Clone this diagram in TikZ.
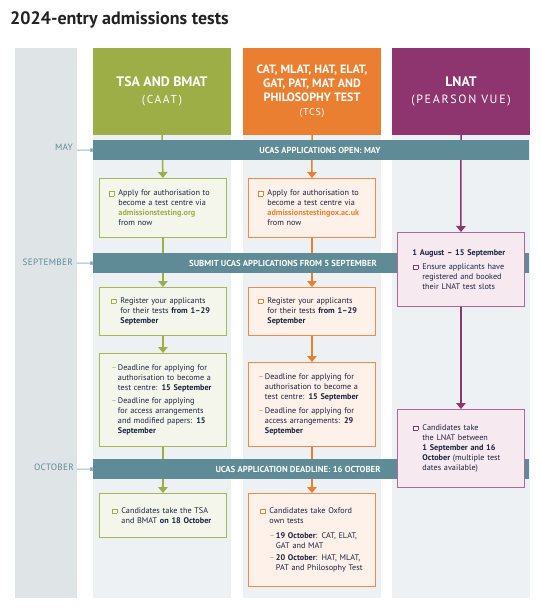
\documentclass[tikz,border=0pt]{standalone}
\usepackage{fontspec}
\setmainfont{PT Sans}
\usetikzlibrary{arrows.meta}
\definecolor{grn}{HTML}{9DAE47}
\definecolor{gbd}{HTML}{A8B65A}
\definecolor{gfill}{HTML}{F4F6EC}
\definecolor{org}{HTML}{EA7F31}
\definecolor{obd}{HTML}{EF8A48}
\definecolor{ofill}{HTML}{FDF1E9}
\definecolor{pur}{HTML}{8E3570}
\definecolor{pbd}{HTML}{B0669A}
\definecolor{pfill}{HTML}{F6E9F0}
\definecolor{teal}{HTML}{5E8B95}
\definecolor{mline}{HTML}{9DBAC0}
\definecolor{colbg}{HTML}{EDF1F4}
\definecolor{greycol}{HTML}{DFE4E7}
\definecolor{txt}{HTML}{1B2440}
\definecolor{ttl}{HTML}{222222}
\pgfdeclarelayer{back}\pgfdeclarelayer{lines}\pgfdeclarelayer{front}
\pgfsetlayers{back,lines,main,front}
\newcommand\cb[1]{\makebox[9pt][l]{\raisebox{0.3pt}{\setlength\fboxsep{0pt}\setlength\fboxrule{0.5pt}\fcolorbox{#1}{white}{\rule{0pt}{3.8pt}\rule{3.8pt}{0pt}}}}}
\newcommand\ck[2]{\cb{#1}\parbox[t]{112pt}{\raggedright #2}}
\newcommand\dk[2]{\makebox[6.5pt][l]{\textcolor{#1}{–}}\parbox[t]{104pt}{\raggedright #2}}
\tikzset{
  box/.style={draw, line width=0.9pt, anchor=north west, minimum width=127pt,
    text width=127pt, inner xsep=0pt, inner ysep=0pt, align=left,
    font=\fontsize{8.2}{10}\selectfont, text=txt},
  gbox/.style={box, draw=gbd, fill=gfill},
  obox/.style={box, draw=obd, fill=ofill},
  pbox/.style={box, draw=pbd, fill=pfill},
  hdr/.style={minimum width=138pt, minimum height=87pt, inner sep=0pt, text=white, align=center},
  bar/.style={anchor=north west, fill=teal, minimum width=436pt, minimum height=20pt, inner sep=0pt},
  bartxt/.style={text=white, font=\fontsize{8.7}{9}\selectfont\bfseries, inner sep=0pt},
  month/.style={anchor=east, text=teal, font=\fontsize{9.2}{10}\selectfont\addfontfeatures{LetterSpace=3}, inner sep=0pt},
  monthline/.style={draw=mline, line width=1pt, -{Square[length=3pt,width=3.5pt,fill=teal]}},
  gline/.style={draw=grn, line width=1.5pt, -{Triangle[width=9.5pt,length=6pt]}},
  oline/.style={draw=org, line width=1.5pt, -{Triangle[width=9.5pt,length=6pt]}},
  pline/.style={draw=pur, line width=1.5pt, -{Triangle[width=9.5pt,length=6pt]}},
}
\begin{document}
\begin{tikzpicture}[x=1pt,y=-1pt]
\useasboundingbox (0,0) rectangle (540,609);
\begin{pgfonlayer}{back}
\fill[white] (0,0) rectangle (540,609);
\fill[greycol] (15,48) rectangle (77,598);
\fill[colbg] (93,135) rectangle (231,598);
\fill[colbg] (243,135) rectangle (381,598);
\fill[colbg] (392,135) rectangle (530,598);
\end{pgfonlayer}

\node[anchor=base west, font=\fontsize{18}{20}\selectfont\bfseries, text=ttl, inner sep=0pt] (title) at (10,25) {2024-entry admissions tests};

% headers
\node[hdr, fill=grn, font=\fontsize{13.8}{17}\selectfont] (hG) at (162,91.5)
  {{\bfseries TSA AND BMAT}\\{\fontsize{11.5}{17}\selectfont\addfontfeatures{LetterSpace=14}(CAAT)}};
\node[hdr, fill=org, font=\fontsize{12}{14.2}\selectfont] (hO) at (312,91.5)
  {{\bfseries CAT, MLAT, HAT, ELAT,}\\{\bfseries GAT, PAT, MAT AND}\\{\bfseries PHILOSOPHY TEST}\\{\fontsize{10}{14.2}\selectfont\addfontfeatures{LetterSpace=8}(TCS)}};
\node[hdr, fill=pur, font=\fontsize{13.8}{17}\selectfont] (hP) at (461,91.5)
  {{\bfseries LNAT}\\{\fontsize{12}{17}\selectfont\addfontfeatures{LetterSpace=14}(PEARSON VUE)}};

% bars
\node[bar] (barMay) at (93,140) {};
\node[bartxt] (tMay) at (320,150) {UCAS APPLICATIONS OPEN: MAY};
\node[bar] (barSep) at (93,253) {};
\node[bartxt] (tSep) at (283,263) {SUBMIT UCAS APPLICATIONS FROM 5 SEPTEMBER};
\node[bar] (barOct) at (93,459) {};
\node[bartxt] (tOct) at (298,469) {UCAS APPLICATION DEADLINE: 16 OCTOBER};

% months
\node[month] (mMay) at (73,147) {MAY};
\node[month] (mSep) at (73,262) {SEPTEMBER};
\node[month] (mOct) at (74,467) {OCTOBER};
\coordinate (cMay) at (77,150);
\coordinate (cSep) at (77,263);
\coordinate (cOct) at (77,469);
\draw[monthline] (cMay) -- (barMay.west);
\draw[monthline] (cSep) -- (barSep.west);
\draw[monthline] (cOct) -- (barOct.west);

\begin{pgfonlayer}{front}
% green column
\node[gbox, minimum height=59pt] (g1) at (99,178)
  {\hspace*{10pt}\ck{grn}{Apply for authorisation to\\become a test centre via\\{\bfseries\color{grn}admissionstesting.org}\\from now}};
\node[gbox, minimum height=48pt] (g2) at (99,287)
  {\hspace*{12pt}\ck{grn}{Register your applicants\\for their tests \textbf{from 1–29}\\\textbf{September}}};
\node[gbox, minimum height=93pt] (g3) at (99,353)
  {\hspace*{12pt}\dk{grn}{Deadline for applying for\\authorisation to become a\\test centre: \textbf{15 September}}\par\vspace{5pt}%
   \hspace*{12pt}\dk{grn}{Deadline for applying\\for access arrangements\\and modified papers: \textbf{15}\\\textbf{September}}};
\node[gbox, minimum height=44pt] (g4) at (99,493)
  {\hspace*{13pt}\ck{grn}{Candidates take the TSA\\and BMAT \textbf{on 18 October}}};
% orange column
\node[obox, minimum height=59pt] (o1) at (248,178)
  {\hspace*{10pt}\ck{org}{Apply for authorisation to\\become a test centre via\\{\bfseries\color{org}admissionstestingox.ac.uk}\\from now}};
\node[obox, minimum height=48pt] (o2) at (248,287)
  {\hspace*{10pt}\ck{org}{Register your applicants\\for their tests \textbf{from 1–29}\\\textbf{September}}};
\node[obox, minimum height=84pt] (o3) at (248,362)
  {\hspace*{10pt}\dk{org}{Deadline for applying for\\authorisation to become a\\test centre: \textbf{15 September}}\par\vspace{5pt}%
   \hspace*{10pt}\dk{org}{Deadline for applying for\\access arrangements: \textbf{29}\\\textbf{September}}};
\node[obox, minimum height=93pt] (o4) at (248,493)
  {\hspace*{12pt}\ck{org}{Candidates take Oxford\\own tests\\[5pt]\dk{org}{\textbf{19 October}: CAT, ELAT,\\GAT and MAT}\\[5pt]\dk{org}{\textbf{20 October}: HAT, MLAT,\\PAT and Philosophy Test}}};
% purple column
\node[pbox, minimum height=74pt] (p1) at (397,232)
  {\hspace*{15pt}\textbf{1 August – 15 September}\par\vspace{4pt}%
   \hspace*{16pt}\ck{pur}{Ensure applicants have\\registered and booked\\their LNAT test slots}};
\node[pbox, minimum height=78pt] (p2) at (397,409)
  {\hspace*{16pt}\ck{pur}{Candidates take\\the LNAT between\\\textbf{1 September and 16}\\\textbf{October} (multiple test\\dates available)}};
\end{pgfonlayer}

\begin{pgfonlayer}{lines}
\draw[gline] (hG.south) -- (g1.north);
\draw[gline] (g1.south) -- (g2.north);
\draw[gline] (g2.south) -- (g3.north);
\draw[gline] (g3.south) -- (g4.north);
\draw[oline] (hO.south) -- (o1.north);
\draw[oline] (o1.south) -- (o2.north);
\draw[oline] (o2.south) -- (o3.north);
\draw[oline] (o3.south) -- (o4.north);
\draw[pline] (hP.south) -- (p1.north);
\draw[pline] (p1.south) -- (p2.north);
\end{pgfonlayer}
\end{tikzpicture}
\end{document}
